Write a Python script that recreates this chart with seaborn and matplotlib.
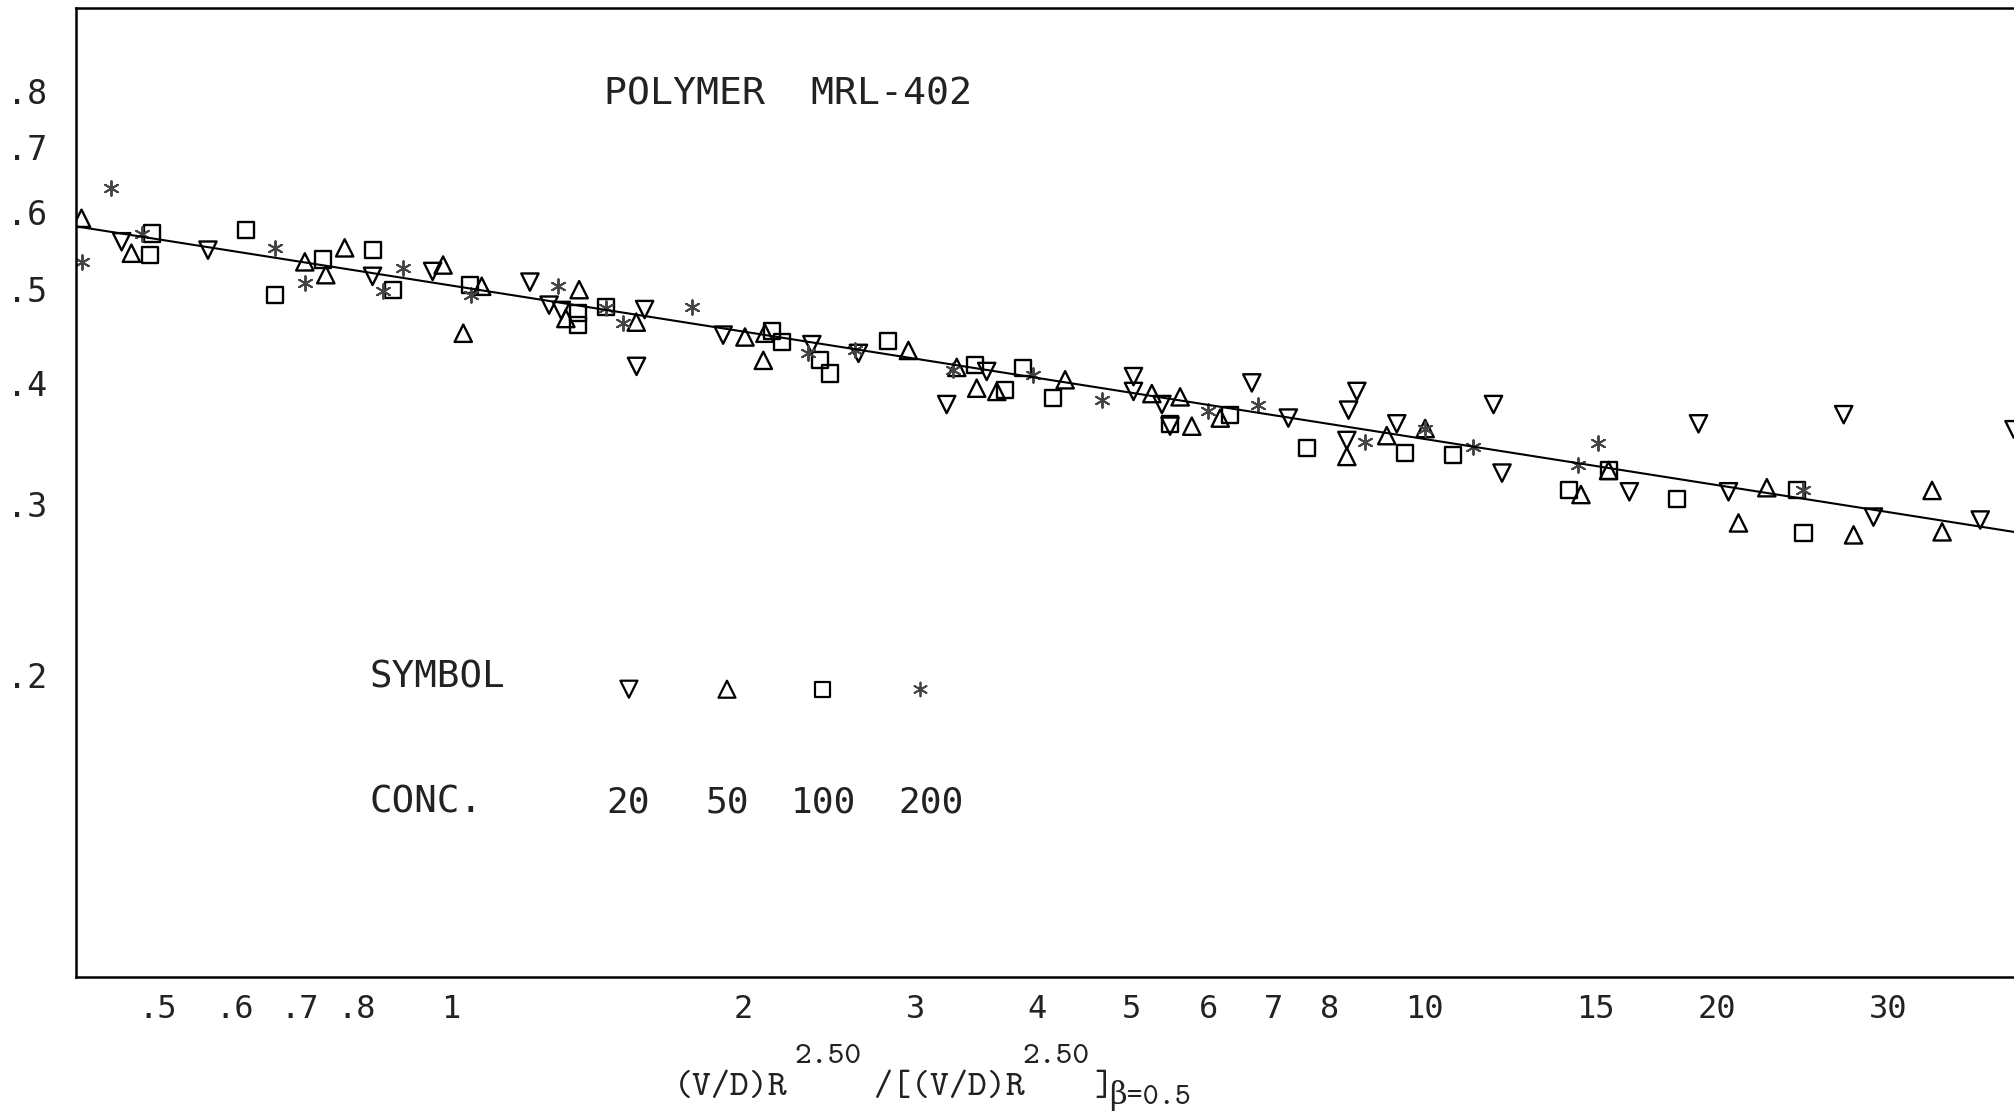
import numpy as np
import pandas as pd
import matplotlib
matplotlib.use("Agg")
import matplotlib.pyplot as plt
import seaborn as sns

# =====================
# data
# =====================
# conc. 20  -> down triangle
x_c20 = [0.459, 0.563, 0.831, 0.958, 1.206, 1.262, 1.299, 1.582, 1.552, 1.905, 2.350,
         2.624, 3.554, 3.233, 5.03, 5.03, 5.38, 5.485, 6.655, 7.256, 8.533, 8.367,
         8.333, 9.378, 11.79, 12.03, 16.26, 19.15, 20.56, 27.0, 28.97, 37.3, 40.4]
y_c20 = [0.559, 0.548, 0.515, 0.521, 0.508, 0.481, 0.475, 0.476, 0.416, 0.448, 0.438,
         0.429, 0.411, 0.380, 0.406, 0.392, 0.380, 0.361, 0.400, 0.368, 0.392, 0.375,
         0.349, 0.363, 0.380, 0.323, 0.309, 0.363, 0.309, 0.371, 0.291, 0.289, 0.358]

# conc. 50  -> up triangle
x_c50 = [0.4174, 0.4697, 0.708, 0.744, 0.778, 0.982, 1.076, 1.030, 1.355, 1.313, 1.551,
         2.006, 2.103, 2.095, 2.953, 3.311, 3.471, 3.640, 4.279, 5.253, 5.617, 5.774,
         6.176, 8.333, 9.159, 10.03, 15.48, 14.50, 21.05, 22.51, 27.64, 33.28, 34.08]
y_c50 = [0.591, 0.544, 0.533, 0.517, 0.551, 0.529, 0.503, 0.450, 0.499, 0.466, 0.462,
         0.446, 0.450, 0.422, 0.432, 0.415, 0.395, 0.392, 0.403, 0.390, 0.387, 0.361,
         0.368, 0.336, 0.353, 0.359, 0.325, 0.307, 0.287, 0.312, 0.279, 0.310, 0.281]

# conc. 100 -> square
x_c100 = [0.4928, 0.4909, 0.6166, 0.6597, 0.7396, 0.8312, 0.8727, 1.047, 1.351, 1.351,
          1.444, 2.137, 2.188, 2.396, 2.453, 2.816, 3.457, 3.712, 3.876, 4.161, 5.485,
          6.322, 7.580, 9.566, 10.72, 14.11, 15.48, 18.20, 24.17, 24.55]
y_c100 = [0.570, 0.542, 0.575, 0.493, 0.536, 0.548, 0.499, 0.505, 0.472, 0.459,
          0.479, 0.452, 0.441, 0.422, 0.409, 0.442, 0.417, 0.393, 0.414, 0.386, 0.363,
          0.371, 0.343, 0.339, 0.337, 0.310, 0.325, 0.304, 0.310, 0.280]

# conc. 200 -> asterisk
x_c200 = [0.4174, 0.4481, 0.4811, 0.6597, 0.708, 0.852, 0.8936, 1.050, 1.289, 1.444,
          1.502, 1.770, 2.330, 2.60, 3.28, 3.969, 4.666, 6.006, 6.761, 8.703, 10.03,
          11.24, 14.41, 15.11, 24.5]
y_c200 = [0.533, 0.635, 0.570, 0.551, 0.507, 0.497, 0.525, 0.493, 0.503, 0.478,
          0.461, 0.479, 0.429, 0.432, 0.412, 0.408, 0.384, 0.374, 0.380, 0.348, 0.359,
          0.344, 0.329, 0.347, 0.310]

# fitted power law  y = A * x**B
FIT_A = 0.504
FIT_B = -0.158

XMIN, XMAX = 0.412, 40.4
YMIN, YMAX = 0.0978, 0.973

x_ticks = [0.5, 0.6, 0.7, 0.8, 1, 2, 3, 4, 5, 6, 7, 8, 10, 15, 20, 30]
x_tick_labels = [".5", ".6", ".7", ".8", "1", "2", "3", "4", "5", "6", "7", "8",
                 "10", "15", "20", "30"]
y_ticks = [0.2, 0.3, 0.4, 0.5, 0.6, 0.7, 0.8]
y_tick_labels = [".2", ".3", ".4", ".5", ".6", ".7", ".8"]

conc_labels = ["20", "50", "100", "200"]

# =====================
# style
# =====================
sns.set_theme(style="white")
plt.rcParams["font.family"] = ["DejaVu Sans Mono", "DejaVu Sans"]

W, H = 2014, 1114
fig = plt.figure(figsize=(W / 100, H / 100), dpi=100)
ax = fig.add_axes([76 / W, 1 - 977 / H, 1 - 76 / W, (977 - 8) / H])
ax.set_xscale("log")
ax.set_yscale("log")

open_kw = dict(facecolor="none", edgecolor="black", linewidth=1.7, s=155, ax=ax)
sns.scatterplot(x=x_c20, y=y_c20, marker="v", **open_kw)
sns.scatterplot(x=x_c50, y=y_c50, marker="^", **open_kw)
sns.scatterplot(x=x_c100, y=y_c100, marker="s", facecolor="none", edgecolor="black",
                linewidth=1.7, s=135, ax=ax)
sns.scatterplot(x=x_c200, y=y_c200, marker=(6, 2, 0), color="#444444",
                linewidth=1.4, s=110, ax=ax)

fit = pd.DataFrame({"x": np.geomspace(XMIN, XMAX, 60)})
fit["y"] = FIT_A * fit["x"] ** FIT_B
sns.lineplot(data=fit, x="x", y="y", color="black", linewidth=1.5, ax=ax)

ax.set_xlim(XMIN, XMAX)
ax.set_ylim(YMIN, YMAX)

ax.xaxis.set_major_locator(matplotlib.ticker.FixedLocator(x_ticks))
ax.xaxis.set_major_formatter(matplotlib.ticker.FixedFormatter(x_tick_labels))
ax.xaxis.set_minor_locator(matplotlib.ticker.NullLocator())
ax.yaxis.set_major_locator(matplotlib.ticker.FixedLocator(y_ticks))
ax.yaxis.set_major_formatter(matplotlib.ticker.FixedFormatter(y_tick_labels))
ax.yaxis.set_minor_locator(matplotlib.ticker.NullLocator())

ax.tick_params(axis="x", direction="in", length=13, width=1.2, pad=12,
               labelsize=23, colors="black", labelcolor="#222222")
ax.tick_params(axis="y", direction="in", length=13, width=1.2, pad=21,
               labelsize=24, colors="black", labelcolor="#222222")

for side in ["left", "bottom", "top"]:
    ax.spines[side].set_visible(True)
    ax.spines[side].set_color("black")
    ax.spines[side].set_linewidth(1.8)
ax.spines["right"].set_visible(False)
ax.set_xlabel("")
ax.set_ylabel("")

# =====================
# annotations
# =====================
txt = dict(transform=ax.transAxes, color="#222222", va="center")
ax.text(0.2724, 0.9105, "POLYMER  MRL-402", fontsize=27.5, **txt)
ax.text(0.1517, 0.3087, "SYMBOL", fontsize=27, **txt)
ax.text(0.1517, 0.1796, "CONC.", fontsize=27, **txt)

key_x = [0.2853, 0.3359, 0.3854, 0.4355]
key_y = 0.297
key_kw = dict(facecolor="none", edgecolor="black", linewidth=1.6,
              transform=ax.transAxes, clip_on=False)
ax.scatter([key_x[0]], [key_y], marker="v", s=150, **key_kw)
ax.scatter([key_x[1]], [key_y], marker="^", s=150, **key_kw)
ax.scatter([key_x[2]], [key_y], marker="s", s=115, **key_kw)
ax.scatter([key_x[3]], [key_y], marker=(6, 2, 0), s=100, color="#444444",
           linewidth=1.3, transform=ax.transAxes, clip_on=False)

conc_x = [0.2848, 0.3359, 0.3854, 0.441]
for cx, lab in zip(conc_x, conc_labels):
    ax.text(cx, 0.1796, lab, ha="center", fontsize=26, **txt)

# axis title, typewriter style, built from pieces
lab = dict(family=["cmtt10", "DejaVu Serif"], color="#222222", va="baseline")


def px(x, y):
    return x / W, 1 - y / H


fig.text(*px(674, 1095), "(V/D)R", fontsize=26, **lab)
fig.text(*px(794, 1063), "2.50", fontsize=23, **lab)
fig.text(*px(874, 1095), "/[(V/D)R", fontsize=26, **lab)
fig.text(*px(1022, 1063), "2.50", fontsize=23, **lab)
fig.text(*px(1094, 1095), "]", fontsize=26, **lab)
fig.text(*px(1109, 1104), "\u03b2=0.5", fontsize=22, **lab)

fig.savefig("out.png", dpi=100, facecolor="white")
